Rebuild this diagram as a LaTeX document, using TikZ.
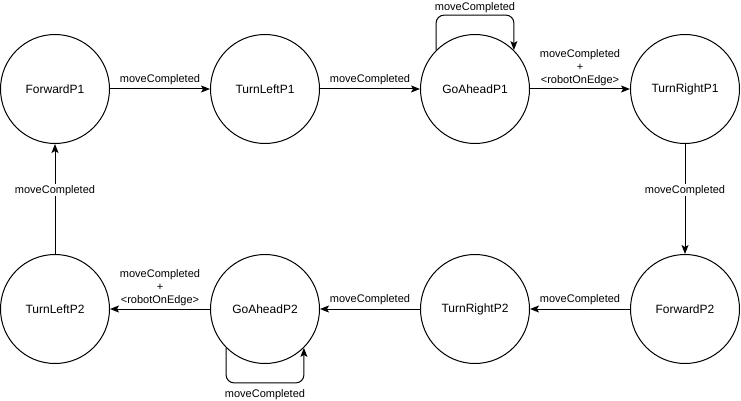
\documentclass[tikz,border=0pt]{standalone}
\usepackage{fontspec}
\setmainfont{Liberation Sans}
\usepackage{tikz}
\usetikzlibrary{arrows.meta, positioning}

\begin{document}
\begin{tikzpicture}[
    x=1pt, y=1pt,
    state/.style={circle, draw=black, line width=1pt, minimum size=109pt, inner sep=0pt, align=center, font=\fontsize{12}{14}\selectfont},
    arrow/.style={-{Stealth[length=9pt, width=7pt, inset=2pt]}, line width=1pt},
    msg/.style={font=\fontsize{11}{13}\selectfont, align=center, inner sep=1.5pt},
    onmsg/.style={msg, fill=white, inner sep=1pt}
]
\useasboundingbox (0,0) rectangle (741,-401);

% States, top row
\node[state] (fwd1) at (55, -89) {ForwardP1};
\node[state] (left1) at (265, -89) {TurnLeftP1};
\node[state] (ahead1) at (475, -89) {GoAheadP1};
\node[state] (right1) at (685, -89) {TurnRightP1};

% States, bottom row
\node[state] (left2) at (55, -309) {TurnLeftP2};
\node[state] (ahead2) at (265, -309) {GoAheadP2};
\node[state] (right2) at (475, -309) {TurnRightP2};
\node[state] (fwd2) at (685, -309) {ForwardP2};

% Transitions, top row
\draw[arrow] (fwd1) -- node[msg, above=2pt] {moveCompleted} (left1);
\draw[arrow] (left1) -- node[msg, above=2pt] {moveCompleted} (ahead1);
\draw[arrow, rounded corners=8pt] (ahead1.135) -- ++(0, 35) -| node[msg, above, pos=0.25] {moveCompleted} (ahead1.45);
\draw[arrow] (ahead1) -- node[msg, above=1pt] {moveCompleted\\+\\{<}robotOnEdge{>}} (right1);

% Transitions, sides
\draw[arrow] (right1) -- node[onmsg, pos=0.42] {moveCompleted} (fwd2);
\draw[arrow] (left2) -- node[onmsg, pos=0.58] {moveCompleted} (fwd1);

% Transitions, bottom row
\draw[arrow] (fwd2) -- node[msg, above=2pt] {moveCompleted} (right2);
\draw[arrow] (right2) -- node[msg, above=2pt] {moveCompleted} (ahead2);
\draw[arrow, rounded corners=8pt] (ahead2.225) -- ++(0, -35) -| node[msg, below=5pt, pos=0.25] {moveCompleted} (ahead2.315);
\draw[arrow] (ahead2) -- node[msg, above=1pt] {moveCompleted\\+\\{<}robotOnEdge{>}} (left2);

\end{tikzpicture}
\end{document}
